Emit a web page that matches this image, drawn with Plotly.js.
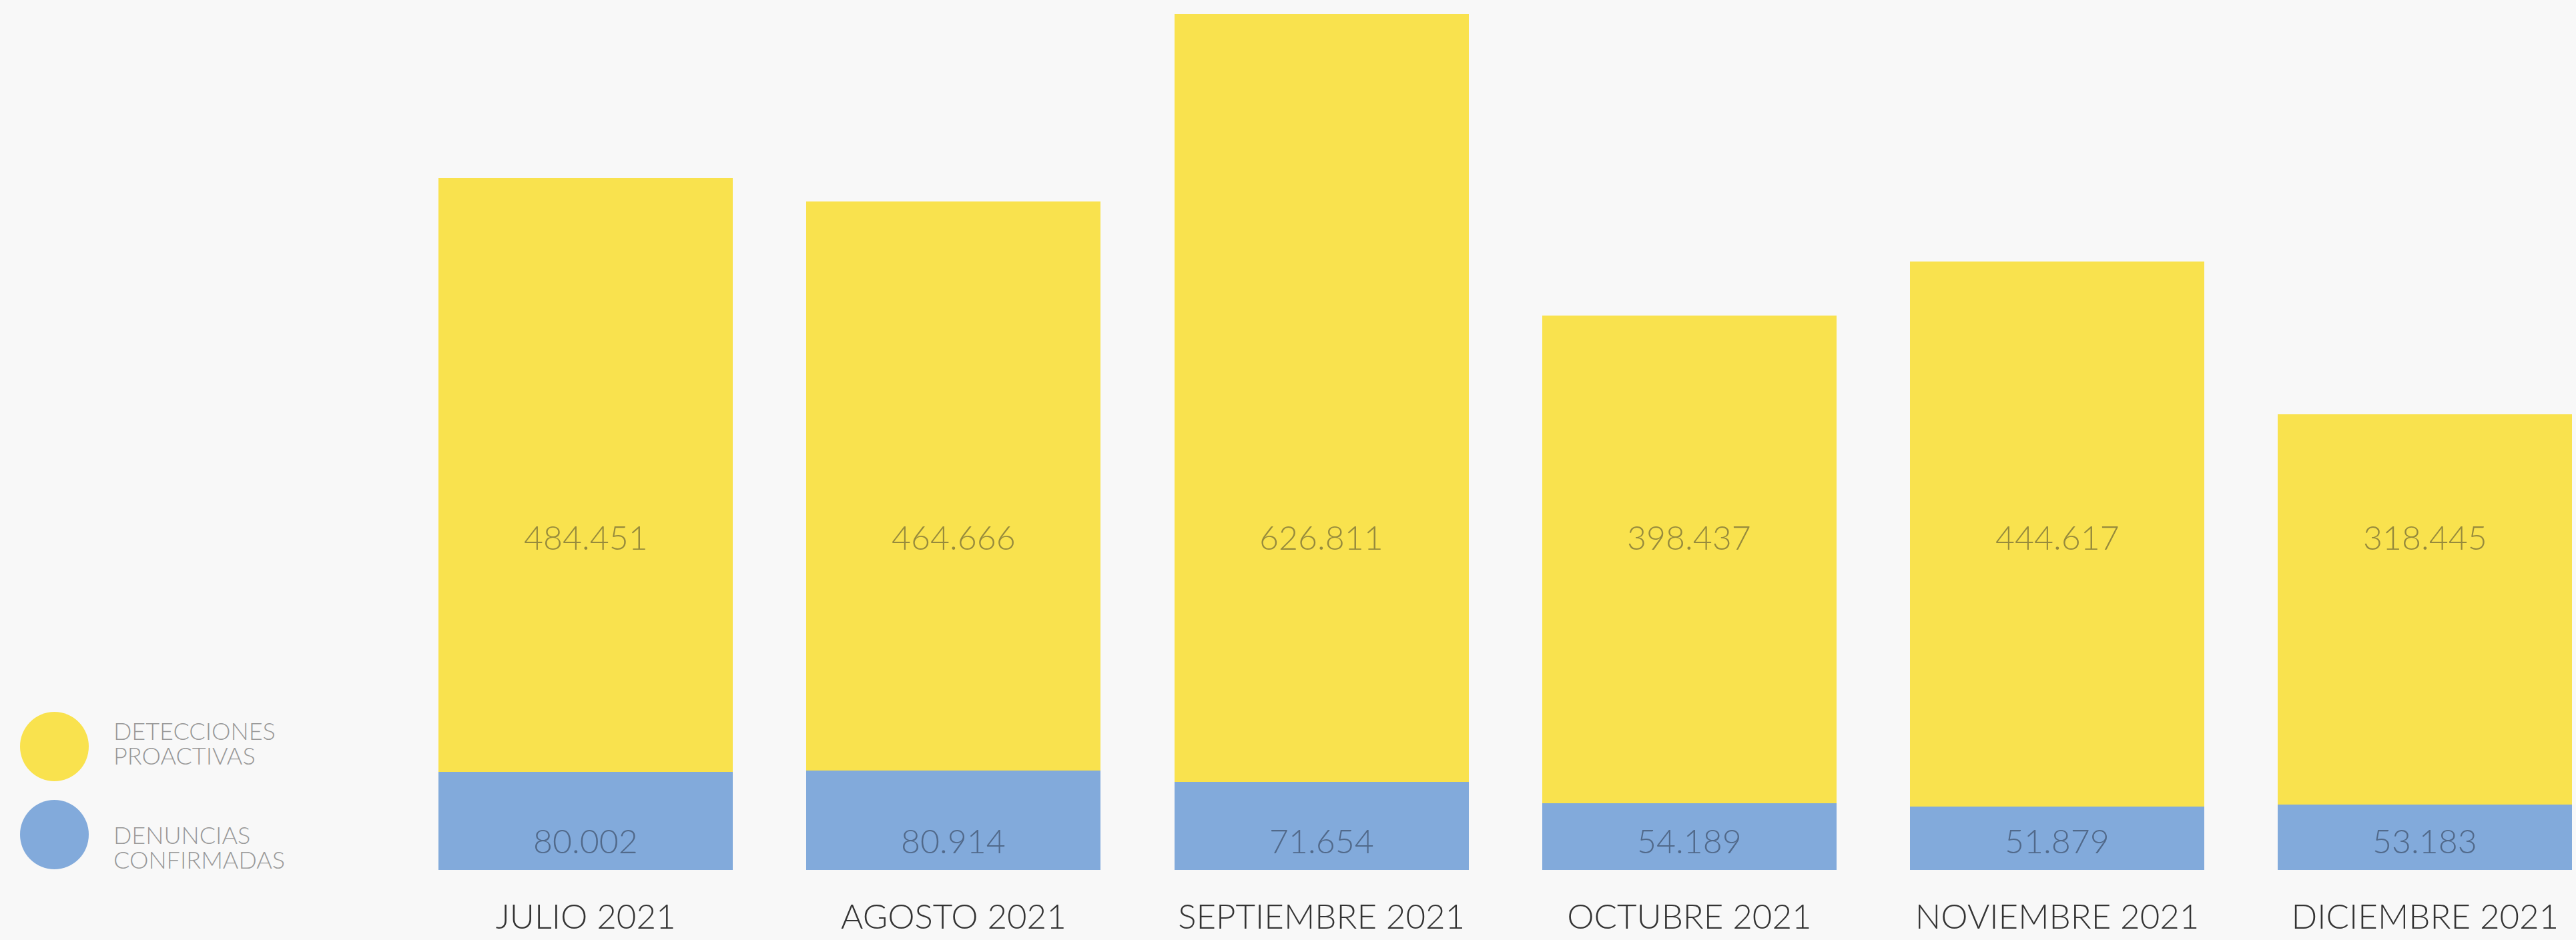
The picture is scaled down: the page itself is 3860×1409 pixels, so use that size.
<!DOCTYPE html>
<html>
<head>
<meta charset="utf-8">
<script src="https://cdn.plot.ly/plotly-3.0.1.min.js"></script>
<style>
html,body{margin:0;padding:0;background:#F8F8F8;}
#chart{width:3860px;height:1409px;}
</style>
</head>
<body>
<div id="chart"></div>
<script>
// ---- data ----
const months = ["JULIO 2021","AGOSTO 2021","SEPTIEMBRE 2021","OCTUBRE 2021","NOVIEMBRE 2021","DICIEMBRE 2021"];
const denuncias = [80002, 80914, 71654, 54189, 51879, 53183];
const detecciones = [484451, 464666, 626811, 398437, 444617, 318445];
const seriesNames = ["DENUNCIAS CONFIRMADAS", "DETECCIONES PROACTIVAS"];
const legendLines = [["DETECCIONES","PROACTIVAS"],["DENUNCIAS","CONFIRMADAS"]];

// ---- styling ----
const W = 3860, H = 1409;
const M = {l: 602, r: 0, t: 21, b: 105};
const yellow = "#F9E24E", blue = "#82AADB";
const font = "Lato, 'Open Sans', sans-serif";

const plotW = W - M.l - M.r, plotH = H - M.t - M.b;
const px2x = p => (p - M.l) / plotW;
const px2y = p => (H - M.b - p) / plotH;

function fmt(n){
  return String(n).replace(/\B(?=(\d{3})+(?!\d))/g, ".");
}

const idx = months.map((_, i) => i);

const traces = [
  {type:"bar", name:seriesNames[0], x:idx, y:denuncias, marker:{color:blue, line:{width:0}}, hoverinfo:"skip"},
  {type:"bar", name:seriesNames[1], x:idx, y:detecciones, marker:{color:yellow, line:{width:0}}, hoverinfo:"skip"}
];

const annotations = [];
idx.forEach(i => {
  annotations.push({x:i, xref:"x", y:px2y(805), yref:"paper", text:fmt(detecciones[i]),
    showarrow:false, xanchor:"center", yanchor:"middle",
    font:{family:font, size:50, color:"#968A3C", weight:300}});
  annotations.push({x:i, xref:"x", y:px2y(1260), yref:"paper", text:fmt(denuncias[i]),
    showarrow:false, xanchor:"center", yanchor:"middle",
    font:{family:font, size:50, color:"#51698A", weight:300}});
});

// legend (drawn manually with large circles)
const legendRows = [
  {color: yellow, top: 1067, bottom: 1171, lines: [1095, 1131.5], text: legendLines[0]},
  {color: blue, top: 1199, bottom: 1303, lines: [1250.5, 1287.5], text: legendLines[1]}
];
const shapes = [];
legendRows.forEach(r => {
  shapes.push({type:"circle", xref:"paper", yref:"paper",
    x0:px2x(30), x1:px2x(133), y0:px2y(r.bottom), y1:px2y(r.top),
    fillcolor:r.color, line:{width:0}});
  r.text.forEach((t, k) => {
    annotations.push({x:px2x(168), xref:"paper", y:px2y(r.lines[k]), yref:"paper", text:t,
      showarrow:false, xanchor:"left", yanchor:"middle",
      font:{family:font, size:36, color:"#999999", weight:300}});
  });
});

const layout = {
  width: W, height: H,
  margin: M,
  paper_bgcolor: "#F8F8F8",
  plot_bgcolor: "#F8F8F8",
  barmode: "stack",
  bargap: 0.2,
  showlegend: false,
  xaxis: {
    range: [-0.5, -0.5 + plotW / ((3853 - 3412) / 0.8)],
    tickmode: "array", tickvals: idx, ticktext: months,
    tickfont: {family: font, size: 51, color: "#333333", weight: 300},
    ticks: "", showgrid: false, zeroline: false, showline: false,
    ticklabelstandoff: 36, fixedrange: true
  },
  yaxis: {
    range: [0, 698500], visible: false, showgrid: false, zeroline: false, fixedrange: true
  },
  annotations: annotations,
  shapes: shapes,
  hovermode: false
};

Plotly.newPlot("chart", traces, layout, {displayModeBar: false, staticPlot: true});
</script>
</body>
</html>
